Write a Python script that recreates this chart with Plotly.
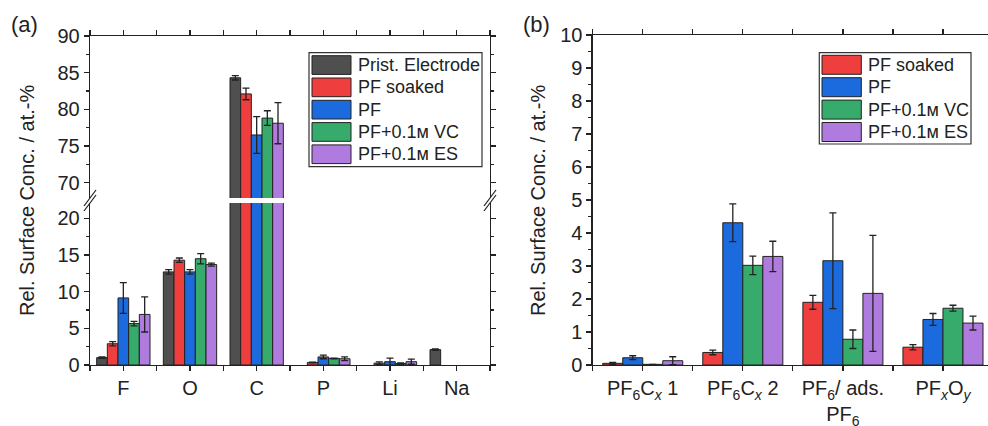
import plotly.graph_objects as go

W, H = 988, 426
FONT = "Liberation Sans, Arial, sans-serif"
INK = "#222222"

# ---------------- data (panel a) ----------------
elements = ["F", "O", "C", "P", "Li", "Na"]
series_a = ["Prist. Electrode", "PF soaked", "PF", "PF+0.1ᴍ VC", "PF+0.1ᴍ ES"]
colors_a = ["#4f4f4f", "#ef3e3e", "#1b6ade", "#36ab6b", "#b07bdf"]

a_prist = [1.0, 12.7, 84.3, None, None, 2.1]
a_prist_err = [0.1, 0.3, 0.3, None, None, 0.1]
a_soaked = [2.9, 14.3, 82.1, 0.35, 0.25, None]
a_soaked_err = [0.3, 0.3, 0.8, 0.05, 0.18, None]
a_pf = [9.15, 12.7, 76.5, 1.1, 0.45, None]
a_pf_err = [2.1, 0.3, 2.5, 0.25, 0.5, None]
a_vc = [5.65, 14.5, 78.8, 0.9, 0.2, None]
a_vc_err = [0.3, 0.7, 1.0, 0.05, 0.1, None]
a_es = [6.9, 13.7, 78.1, 0.85, 0.45, None]
a_es_err = [2.4, 0.2, 2.8, 0.25, 0.35, None]

values_a = [a_prist, a_soaked, a_pf, a_vc, a_es]
errors_a = [a_prist_err, a_soaked_err, a_pf_err, a_vc_err, a_es_err]

# ---------------- data (panel b) ----------------
species = ["PF<sub>6</sub>C<sub><i>x</i></sub> 1", "PF<sub>6</sub>C<sub><i>x</i></sub> 2",
           "PF<sub>6</sub>/ ads.<br>PF<sub>6</sub>", "PF<sub><i>x</i></sub>O<sub><i>y</i></sub>"]
series_b = ["PF soaked", "PF", "PF+0.1ᴍ VC", "PF+0.1ᴍ ES"]
colors_b = ["#ef3e3e", "#1b6ade", "#36ab6b", "#b07bdf"]

b_soaked = [0.05, 0.38, 1.9, 0.54]
b_soaked_err = [0.03, 0.07, 0.21, 0.08]
b_pf = [0.22, 4.31, 3.16, 1.38]
b_pf_err = [0.06, 0.57, 1.45, 0.18]
b_vc = [0.02, 3.02, 0.78, 1.72]
b_vc_err = [None, 0.28, 0.28, 0.09]
b_es = [0.13, 3.29, 2.17, 1.27]
b_es_err = [0.12, 0.46, 1.76, 0.21]

values_b = [b_soaked, b_pf, b_vc, b_es]
errors_b = [b_soaked_err, b_pf_err, b_vc_err, b_es_err]

yticks_lo = [0, 5, 10, 15, 20]
yticks_hi = [70, 75, 80, 85, 90]
yticks_b = list(range(0, 11))


def fx(p):
    return p / W


def fy(p):
    return 1 - p / H


fig = go.Figure()

xa = list(range(len(elements)))
xb = list(range(len(species)))


def bar(x, y, err, name, color, xaxis, yaxis):
    return go.Bar(
        x=x, y=y, name=name, showlegend=False,
        marker=dict(color=color, line=dict(color=INK, width=1)),
        error_y=dict(type="data", array=err, color=INK, thickness=1.3, width=3.5),
        xaxis=xaxis, yaxis=yaxis,
    )


for name, vals, errs, col in zip(series_a, values_a, errors_a, colors_a):
    fig.add_trace(bar(xa, vals, errs, name, col, "x", "y"))
    fig.add_trace(bar(xa, vals, errs, name, col, "x2", "y2"))

for name, vals, errs, col in zip(series_b, values_b, errors_b, colors_b):
    fig.add_trace(bar(xb, vals, errs, name, col, "x3", "y3"))

tickfont = dict(family=FONT, size=20, color=INK)
base = dict(showline=True, linecolor=INK, linewidth=1.3, ticks="outside", ticklen=5,
            tickwidth=1.3, tickcolor=INK, showgrid=False, zeroline=False, tickfont=tickfont,
            automargin=False)
minor_x = dict(ticks="outside", tick0=0.5, dtick=1, ticklen=5, tickcolor=INK, tickwidth=1.3)

L0, L1 = 90, 490
R0 = 592.7
YB, YT = 365, 36
YBRK_LO, YBRK_HI = 203, 198

fig.update_layout(
    template="none",
    width=W, height=H,
    margin=dict(l=0, r=0, t=0, b=0, pad=0),
    paper_bgcolor="white", plot_bgcolor="white",
    barmode="group", bargap=0.2, bargroupgap=0,
    showlegend=False,
    xaxis=dict(base, domain=[fx(L0), fx(L1)], range=[-0.5, 5.5], anchor="y",
               tickmode="array", tickvals=xa, ticktext=elements, minor=minor_x),
    xaxis2=dict(base, domain=[fx(L0), fx(L1)], range=[-0.5, 5.5], anchor="y2", side="top",
                tickmode="array", tickvals=xa, showticklabels=False, minor=minor_x),
    yaxis=dict(base, domain=[fy(YB), fy(YBRK_LO)], range=[0, 22.1], anchor="x", mirror="ticks",
               tickmode="array", tickvals=yticks_lo,
               minor=dict(ticks="outside", tick0=2.5, dtick=5, ticklen=3, tickcolor=INK, tickwidth=1.3)),
    yaxis2=dict(base, domain=[fy(YBRK_HI), fy(YT)], range=[67.9, 90], anchor="x2", mirror="ticks",
                tickmode="array", tickvals=yticks_hi,
                minor=dict(ticks="outside", tick0=2.5, dtick=5, ticklen=3, tickcolor=INK, tickwidth=1.3)),
    xaxis3=dict(base, domain=[fx(R0), 1.0], range=[-0.5, 3.45], anchor="y3", mirror="ticks",
                tickmode="array", tickvals=xb, ticktext=species, minor=minor_x),
    yaxis3=dict(base, domain=[fy(YB), fy(35)], range=[0, 10], anchor="x3", mirror="ticks",
                tickmode="array", tickvals=yticks_b,
                minor=dict(ticks="outside", tick0=0.5, dtick=1, ticklen=3, tickcolor=INK, tickwidth=1.3)),
)

shapes = []
annotations = []

# axis break marks
for xb_px in (L0, L1):
    for off in (-2.5, 2.5):
        cy = 200.5 + off
        shapes.append(dict(type="line", xref="paper", yref="paper",
                           x0=fx(xb_px - 6), y0=fy(cy + 8), x1=fx(xb_px + 6), y1=fy(cy - 8),
                           line=dict(color=INK, width=1.2)))


# custom legends
def legend(names, cols, bx0, bx1, by0, by1, sx0, sx1, top, pitch, sh, tx):
    shapes.append(dict(type="rect", xref="paper", yref="paper",
                       x0=fx(bx0), x1=fx(bx1), y0=fy(by1), y1=fy(by0),
                       line=dict(color="#333333", width=1.2), fillcolor="white", layer="above"))
    for i, (n, c) in enumerate(zip(names, cols)):
        t = top + pitch * i
        shapes.append(dict(type="rect", xref="paper", yref="paper",
                           x0=fx(sx0), x1=fx(sx1), y0=fy(t + sh), y1=fy(t),
                           line=dict(color=INK, width=1), fillcolor=c, layer="above"))
        annotations.append(dict(text=n, xref="paper", yref="paper", x=fx(tx), y=fy(t + sh / 2),
                                xanchor="left", yanchor="middle", showarrow=False,
                                font=dict(family=FONT, size=18, color=INK)))


legend(series_a, colors_a, 309, 482, 52.7, 166.7, 312, 351, 55.7, 22.3, 18.7, 356)
legend(series_b, colors_b, 819.3, 971, 52.7, 144, 822, 861.3, 55.3, 22.4, 19.0, 866)

# y titles
for x_px in (27, 538):
    annotations.append(dict(text="Rel. Surface Conc. / at.-%", xref="paper", yref="paper",
                            x=fx(x_px), y=fy(201), textangle=-90, showarrow=False,
                            xanchor="center", yanchor="middle",
                            font=dict(family=FONT, size=20, color=INK)))

# panel labels
annotations.append(dict(text="(a)", xref="paper", yref="paper", x=fx(9), y=fy(25),
                        xanchor="left", yanchor="middle", showarrow=False,
                        font=dict(family=FONT, size=22, color=INK)))
annotations.append(dict(text="(b)", xref="paper", yref="paper", x=fx(521), y=fy(25),
                        xanchor="left", yanchor="middle", showarrow=False,
                        font=dict(family=FONT, size=22, color=INK)))

fig.update_layout(shapes=shapes, annotations=annotations)

fig.write_html("out.html",
               config=dict(displayModeBar=False, staticPlot=True),
               post_script="document.body.style.margin='0';document.body.style.overflow='hidden';")
